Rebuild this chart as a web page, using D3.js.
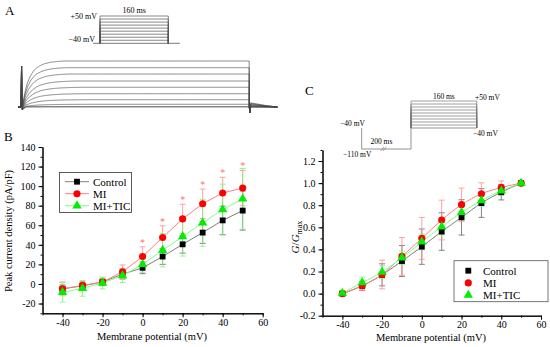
<!DOCTYPE html>
<html>
<head>
<meta charset="utf-8">
<script src="https://cdn.jsdelivr.net/npm/d3@7"></script>
<style>
  body { margin: 0; background: #fff; }
  svg, svg text { font-family: "Liberation Serif", "Times New Roman", serif !important; }
  text { fill: #000; }
  .axis path, .axis line { stroke: #000; stroke-width: 1; }
  .axis text { font-size: 10px; }
</style>
</head>
<body>
<script>
// membrane potentials of the test steps (mV)
const voltages = [-40, -30, -20, -10, 0, 10, 20, 30, 40, 50];

// panel B: peak current density (pA/pF), mean and SD
const ctrlDensity = [-5, -2, 2, 10, 16.5, 28, 40.5, 52.5, 65, 75];
const ctrlDensitySD = [4, 3, 3, 5, 6, 8, 9, 11, 14.5, 20];
const miDensity = [-5, -1.5, 2, 12.5, 28, 47.5, 66.5, 82, 93, 98];
const miDensitySD = [7, 4, 4, 7, 10, 12, 15, 15, 16, 18];
const ticDensity = [-8.5, -4.5, 1, 8.5, 20, 34.5, 48.5, 62.5, 76, 87];
const ticDensitySD = [10, 8, 6, 7, 8, 17, 20, 24, 26, 31];
const sigVoltages = [0, 10, 20, 30, 40, 50]; // * MI vs control

// panel C: G/Gmax, mean and SD
const ctrlG = [0, 0.07, 0.17, 0.295, 0.425, 0.562, 0.69, 0.82, 0.918, 1.0];
const ctrlGSD = [0, 0.04, 0.1, 0.14, 0.16, 0.17, 0.16, 0.13, 0.07, 0];
const miG = [0, 0.073, 0.173, 0.337, 0.5, 0.666, 0.805, 0.903, 0.96, 1.0];
const miGSD = [0, 0.04, 0.13, 0.17, 0.19, 0.18, 0.15, 0.1, 0.06, 0];
const ticG = [0.005, 0.1, 0.195, 0.325, 0.468, 0.605, 0.735, 0.842, 0.93, 1.0];
const ticGSD = [0.01, 0.05, 0.06, 0.06, 0.07, 0.07, 0.06, 0.05, 0.04, 0];

// panel A: raw current traces (arbitrary units), one per test step
const traceAmp = [0, 0.5, 2.7, 7.3, 13.3, 19.7, 26, 33, 39.3, 46];
const traceSlow = [1, 1, 1.7, 1.6, 1.5, 1.4, 1.3, 1.15, 1.05, 1];
const riseTime = [0, 2, 4, 6, 8, 10, 13, 16, 20, 25, 30, 160];
const riseFrac = [0, 0.3, 0.52, 0.67, 0.77, 0.84, 0.9, 0.94, 0.97, 0.99, 1, 1];
const onTime = [-3, -0.4, -0.2, 0.3, 1, 3];
const onArtifact = [0, 0, 52, -3, -2, 0];
const offTime = [160, 160.4, 161, 163, 172, 180];
const offArtifact = [0, -6, 0, 0, 0, 0];
const tailFrac = [0, 0, 0.09, 0.08, 0.03, 0];

const W = 550, H = 347;
const svg = d3.select('body').append('svg')
  .attr('width', W).attr('height', H);

// ---------- panel labels ----------
svg.append('text').attr('x', 5).attr('y', 15).style('font-size', '13px').text('A');
svg.append('text').attr('x', 4).attr('y', 141).style('font-size', '13px').text('B');
svg.append('text').attr('x', 305).attr('y', 95).style('font-size', '13px').text('C');

// ---------- panel A: protocol ----------
const protoX = d3.scaleLinear().domain([0, 160]).range([100, 168.3]);
const protoY = d3.scaleLinear().domain([-40, 50]).range([43.3, 16]);
const gA = svg.append('g');
gA.append('line')
  .attr('x1', protoX(-16)).attr('x2', protoX(187))
  .attr('y1', protoY(-40)).attr('y2', protoY(-40))
  .attr('stroke', '#555').attr('stroke-width', 0.8);
gA.selectAll('.step').data(voltages.slice(1)).enter().append('path')
  .attr('fill', 'none').attr('stroke', '#555').attr('stroke-width', 0.7)
  .attr('d', v => `M${protoX(0)},${protoY(-40)}V${protoY(v)}H${protoX(160)}V${protoY(-40)}`);
gA.append('text').attr('x', 97).attr('y', protoY(50) + 3).attr('text-anchor', 'end')
  .style('font-size', '8px').text('+50 mV');
gA.append('text').attr('x', 95).attr('y', protoY(-40) - 1.5).attr('text-anchor', 'end')
  .style('font-size', '8px').text('\u221240 mV');
gA.append('text').attr('x', protoX(80)).attr('y', 12.5).attr('text-anchor', 'middle')
  .style('font-size', '8px').text('160 ms');

// ---------- panel A: current traces ----------
const tX = d3.scaleLinear().domain([0, 160]).range([21.7, 249.3]);
const iY = d3.scaleLinear().domain([0, 46]).range([107, 61]);
const rise = d3.scaleLinear().domain(riseTime).range(riseFrac).clamp(true);
const onArt = d3.scaleLinear().domain(onTime).range(onArtifact).clamp(true);
const offArt = d3.scaleLinear().domain(offTime).range(offArtifact).clamp(true);
const tail = d3.scaleLinear().domain(offTime).range(tailFrac).clamp(true);
const tOn = d3.range(-2.6, 159.9, 0.25).concat([159.9]);
const tOff = d3.range(160, 180, 0.2);

const traceLine = d3.line().x(d => tX(d[0])).y(d => iY(d[1]));
traceAmp.forEach((amp, k) => {
  const pts = tOn.map(t => [t, amp * rise(t / traceSlow[k]) + onArt(t)])
    .concat(tOff.map(t => [t, amp * tail(t) + offArt(t)]));
  gA.append('path').datum(pts)
    .attr('fill', 'none').attr('stroke', '#444').attr('stroke-width', 0.65)
    .attr('d', traceLine);
});

// ---------- shared drawing helpers ----------
const series = [
  { name: 'Control', shape: d3.symbolSquare, size: 34, fill: '#000', line: '#808080', err: '#666' },
  { name: 'MI', shape: d3.symbolCircle, size: 40, fill: '#ff0000', line: '#ff8080', err: '#ff8c8c' },
  { name: 'MI+TIC', shape: d3.symbolTriangle, size: 38, fill: '#00ee00', line: '#80ff80', err: '#7df27d' }
];

function drawAxes(g, x, y, xMajor, yMajor, yMinor, xMinor, yFmt) {
  const [x0] = x.range(), [y0] = y.range();
  g.append('g').attr('class', 'axis').attr('transform', `translate(0,${y0})`)
    .call(d3.axisBottom(x).tickValues(xMinor).tickSize(2).tickFormat('').tickSizeOuter(0));
  g.append('g').attr('class', 'axis').attr('transform', `translate(0,${y0})`)
    .call(d3.axisBottom(x).tickValues(xMajor).tickSize(4).tickPadding(1.5).tickSizeOuter(0))
    .selectAll('text').text(d => d3.format('d')(d).replace('\u2212', '-'));
  g.append('g').attr('class', 'axis').attr('transform', `translate(${x0},0)`)
    .call(d3.axisLeft(y).tickValues(yMinor).tickSize(2).tickFormat('').tickSizeOuter(0));
  g.append('g').attr('class', 'axis').attr('transform', `translate(${x0},0)`)
    .call(d3.axisLeft(y).tickValues(yMajor).tickSize(4).tickPadding(3).tickSizeOuter(0))
    .selectAll('text').text(d => d3.format(yFmt)(d).replace('\u2212', '-'));
}

function drawSeries(g, x, y, means, sds, curve) {
  series.forEach((s, k) => {
    const pts = voltages.map((v, i) => ({ v, m: means[k][i], sd: sds[k][i] }));
    const eb = g.append('g').attr('stroke', s.err).attr('stroke-width', 0.8);
    pts.forEach(p => {
      if (!p.sd) return;
      const xp = x(p.v), yt = y(p.m + p.sd), yb = y(p.m - p.sd);
      eb.append('line').attr('x1', xp).attr('x2', xp).attr('y1', yt).attr('y2', yb);
      eb.append('line').attr('x1', xp - 3).attr('x2', xp + 3).attr('y1', yt).attr('y2', yt);
      eb.append('line').attr('x1', xp - 3).attr('x2', xp + 3).attr('y1', yb).attr('y2', yb);
    });
    g.append('path').datum(pts)
      .attr('fill', 'none').attr('stroke', s.line).attr('stroke-width', 1)
      .attr('d', d3.line().x(p => x(p.v)).y(p => y(p.m)).curve(curve));
  });
  series.forEach((s, k) => {
    g.selectAll(null).data(voltages.map((v, i) => [v, means[k][i]])).enter().append('path')
      .attr('transform', d => `translate(${x(d[0])},${y(d[1])})`)
      .attr('fill', s.fill)
      .attr('d', d3.symbol(s.shape, s.size));
  });
}

// ---------- panel B ----------
const xB = d3.scaleLinear().domain([-50, 60]).range([42.5, 262.7]);
const yB = d3.scaleLinear().domain([-30, 140]).range([313.3, 147]);
const gB = svg.append('g');
drawAxes(gB, xB, yB, d3.range(-40, 61, 20), d3.range(-20, 141, 20),
  d3.range(-30, 141, 10), d3.range(-50, 61, 10), 'd');
drawSeries(gB, xB, yB, [ctrlDensity, miDensity, ticDensity],
  [ctrlDensitySD, miDensitySD, ticDensitySD], d3.curveLinear);

gB.selectAll('.star').data(sigVoltages).enter().append('text')
  .attr('x', v => xB(v)).attr('text-anchor', 'middle')
  .attr('y', v => { const i = voltages.indexOf(v); return yB(miDensity[i] + miDensitySD[i]) - 1; })
  .style('font-size', '10px').style('fill', '#ff7070').text('*');

gB.append('text').attr('x', 152).attr('y', 340).attr('text-anchor', 'middle')
  .style('font-size', '10.5px').text('Membrane potential (mV)');
gB.append('text').attr('transform', 'translate(12,231) rotate(-90)').attr('text-anchor', 'middle')
  .style('font-size', '10.5px').text('Peak current density (pA/pF)');

// legend B
const legB = gB.append('g');
legB.append('rect').attr('x', 59.5).attr('y', 172.5).attr('width', 72).attr('height', 40)
  .attr('fill', '#fff').attr('stroke', '#333').attr('stroke-width', 0.8);
series.forEach((s, k) => {
  const yy = 181.7 + k * 12;
  legB.append('line').attr('x1', 65).attr('x2', 89).attr('y1', yy).attr('y2', yy)
    .attr('stroke', s.line).attr('stroke-width', 1);
  legB.append('path').attr('transform', `translate(77,${yy})`).attr('fill', s.fill)
    .attr('d', d3.symbol(s.shape, s.size));
  legB.append('text').attr('x', 93).attr('y', yy + 3.8).style('font-size', '11px').text(s.name);
});

// ---------- panel C: protocol ----------
const pcX = d3.scaleLinear().domain([0, 200, 360]).range([361.7, 411, 476.7]);
const pcY = d3.scaleLinear().domain([-110, 50]).range([149, 101]);
const gP = svg.append('g');
gP.append('path').attr('fill', 'none').attr('stroke', '#777').attr('stroke-width', 0.8)
  .attr('d', `M${pcX(0)},${pcY(-40)}V${pcY(-110)}H${pcX(200)}V${pcY(-40)}`);
gP.selectAll('.cstep').data(voltages.slice(1)).enter().append('path')
  .attr('fill', 'none').attr('stroke', '#777').attr('stroke-width', 0.7)
  .attr('d', v => `M${pcX(200)},${pcY(-40)}V${pcY(v)}H${pcX(360)}V${pcY(-40)}`);
gP.append('line').attr('x1', pcX(200)).attr('x2', pcX(360))
  .attr('y1', pcY(-40)).attr('y2', pcY(-40)).attr('stroke', '#777').attr('stroke-width', 0.8);
// break marks on the 200 ms segment
[-1.2, 1.2].forEach(dx => {
  gP.append('line').attr('x1', pcX(88) + dx - 1.5).attr('x2', pcX(88) + dx + 1.5)
    .attr('y1', pcY(-110) + 2).attr('y2', pcY(-110) - 2).attr('stroke', '#777').attr('stroke-width', 0.7);
});
gP.append('text').attr('x', 365).attr('y', pcY(-40) - 2).attr('text-anchor', 'end')
  .style('font-size', '7.5px').text('\u221240 mV');
gP.append('text').attr('x', 343).attr('y', pcY(-110) + 8).style('font-size', '7.5px').text('\u2212110 mV');
gP.append('text').attr('x', pcX(80)).attr('y', 144).attr('text-anchor', 'middle')
  .style('font-size', '7.5px').text('200 ms');
gP.append('text').attr('x', pcX(280)).attr('y', 98.5).attr('text-anchor', 'middle')
  .style('font-size', '7.5px').text('160 ms');
gP.append('text').attr('x', 475).attr('y', 99.8).style('font-size', '7.5px').text('+50 mV');
gP.append('text').attr('x', 473).attr('y', 136).style('font-size', '7.5px').text('\u221240 mV');

// ---------- panel C ----------
const xC = d3.scaleLinear().domain([-50, 60]).range([322.5, 541]);
const yC = d3.scaleLinear().domain([-0.2, 1.3]).range([315.7, 150]);
const gC = svg.append('g');
drawAxes(gC, xC, yC, d3.range(-40, 61, 20), d3.range(-0.2, 1.21, 0.2),
  d3.range(-0.2, 1.31, 0.1), d3.range(-50, 61, 10), '.1f');
drawSeries(gC, xC, yC, [ctrlG, miG, ticG], [ctrlGSD, miGSD, ticGSD], d3.curveMonotoneX);

gC.append('text').attr('x', 431).attr('y', 340.5).attr('text-anchor', 'middle')
  .style('font-size', '10.5px').text('Membrane potential (mV)');
const yl = gC.append('text').attr('transform', 'translate(299,237) rotate(-90)')
  .attr('text-anchor', 'middle').style('font-size', '11px');
yl.append('tspan').style('font-style', 'italic').text('G');
yl.append('tspan').text('/');
yl.append('tspan').style('font-style', 'italic').text('G');
yl.append('tspan').attr('dy', 2.5).style('font-size', '8px').text('max');

// legend C
const legC = gC.append('g');
legC.append('rect').attr('x', 454).attr('y', 260.7).attr('width', 94).attr('height', 41)
  .attr('fill', '#fff').attr('stroke', '#555').attr('stroke-width', 0.8);
series.forEach((s, k) => {
  const yy = 270.7 + k * 12.2;
  legC.append('path').attr('transform', `translate(468.3,${yy})`).attr('fill', s.fill)
    .attr('d', d3.symbol(s.shape, s.size));
  legC.append('text').attr('x', 483).attr('y', yy + 3.8).style('font-size', '11px').text(s.name);
});
</script>
</body>
</html>
